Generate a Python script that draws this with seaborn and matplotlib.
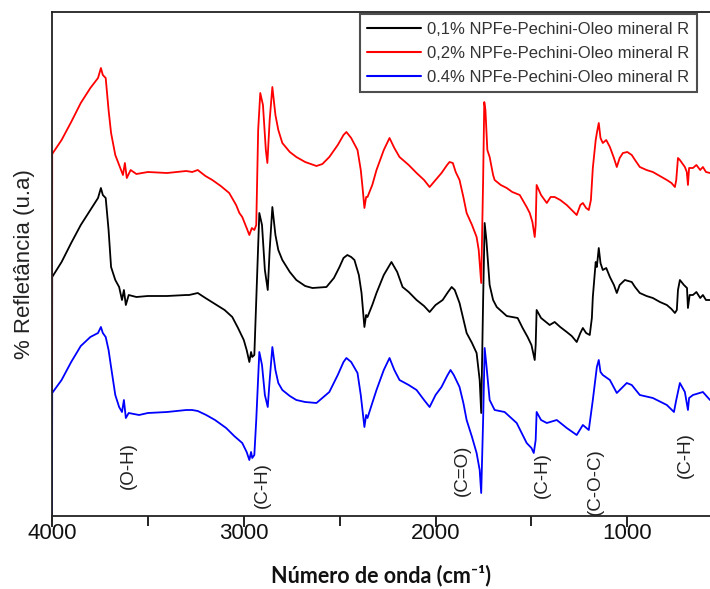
import matplotlib
matplotlib.use("Agg")
import matplotlib.pyplot as plt
import seaborn as sns
import pandas as pd

sns.set_style("white")
plt.rcParams["font.family"] = ["Liberation Sans", "DejaVu Sans"]

# ---- spectra (wavenumber in cm-1, reflectance in arbitrary units) ----
wn_01 = [4000, 3999, 3950, 3900, 3850, 3800, 3760, 3745, 3735, 3720, 3705, 3692, 3670, 3650,
         3635, 3625, 3615, 3600, 3560, 3500, 3400, 3300, 3285, 3240, 3200, 3150, 3100, 3060,
         3030, 3000, 2985, 2971, 2962, 2956, 2945, 2935, 2919, 2905, 2890, 2875, 2865, 2851,
         2835, 2820, 2799, 2760, 2726, 2680, 2642, 2569, 2530, 2501, 2480, 2460, 2440, 2423,
         2400, 2386, 2371, 2362, 2355, 2330, 2308, 2270, 2230, 2200, 2172, 2140, 2099, 2060,
         2031, 2000, 1963, 1935, 1916, 1900, 1875, 1838, 1810, 1786, 1770, 1762, 1752, 1744,
         1735, 1718, 1700, 1681, 1629, 1572, 1546, 1520, 1500, 1483, 1478, 1473, 1450, 1405,
         1379, 1350, 1316, 1290, 1264, 1245, 1232, 1215, 1196, 1185, 1180, 1165, 1159, 1149,
         1140, 1128, 1110, 1091, 1070, 1055, 1040, 1013, 977, 960, 935, 900, 867, 830, 794,
         770, 752, 742, 736, 726, 705, 689, 684, 675, 658, 640, 620, 606, 590, 569]
r_01 = [5.6, 23.9, 25.4, 27.3, 29.1, 30.6, 31.8, 32.8, 32.1, 31.8, 28.6, 24.9, 23.6, 22.9,
        21.6, 22.6, 21.1, 22.1, 21.9, 22.0, 22.0, 22.1, 22.1, 22.3, 21.8, 21.2, 20.6, 19.9,
        18.8, 17.6, 16.6, 15.4, 16.4, 15.9, 16.1, 21.6, 30.3, 29.1, 24.6, 22.6, 26.6, 30.9,
        28.1, 26.6, 25.6, 24.4, 23.6, 23.0, 22.8, 22.9, 23.8, 24.9, 25.8, 26.1, 25.9, 25.6,
        24.1, 22.3, 18.9, 20.1, 19.9, 21.1, 22.3, 24.1, 25.4, 24.4, 22.9, 22.4, 21.6, 21.0,
        20.4, 21.1, 21.6, 22.4, 22.9, 22.6, 21.3, 18.3, 17.3, 16.3, 13.6, 10.3, 21.6, 29.3,
        27.6, 23.1, 21.6, 20.9, 20.0, 19.8, 18.8, 17.9, 17.1, 15.6, 17.1, 20.6, 19.8, 19.1,
        19.4, 18.9, 18.4, 18.0, 17.4, 18.3, 18.8, 18.3, 18.1, 19.8, 21.9, 25.4, 24.9, 26.8,
        25.3, 24.6, 24.8, 23.9, 23.1, 22.3, 23.1, 23.6, 23.4, 22.9, 22.3, 22.0, 21.8, 21.4, 21.1,
        20.7, 20.3, 20.6, 22.6, 23.6, 23.1, 22.8, 20.8, 22.1, 22.1, 22.4, 21.8, 22.1, 21.6, 21.6]

wn_02 = [4000, 3999, 3950, 3900, 3850, 3800, 3760, 3745, 3735, 3720, 3705, 3692, 3670, 3650,
         3630, 3620, 3610, 3590, 3560, 3500, 3400, 3300, 3269, 3240, 3200, 3164, 3120, 3076,
         3040, 3023, 3008, 2985, 2971, 2958, 2945, 2935, 2925, 2914, 2900, 2885, 2877, 2865,
         2851, 2835, 2820, 2799, 2760, 2726, 2680, 2621, 2590, 2554, 2510, 2480, 2465, 2440,
         2407, 2390, 2381, 2371, 2362, 2355, 2330, 2308, 2270, 2240, 2215, 2188, 2140, 2099,
         2060, 2031, 2000, 1969, 1940, 1927, 1910, 1895, 1875, 1855, 1838, 1810, 1786, 1775,
         1762, 1752, 1746, 1740, 1730, 1718, 1700, 1692, 1660, 1629, 1600, 1561, 1525, 1509,
         1495, 1483, 1478, 1473, 1450, 1420, 1400, 1379, 1350, 1316, 1290, 1264, 1245, 1232,
         1215, 1201, 1190, 1180, 1165, 1159, 1149, 1140, 1128, 1110, 1091, 1070, 1055, 1040,
         1023, 1000, 977, 960, 935, 900, 867, 830, 794, 770, 752, 745, 736, 726, 700, 690, 684,
         678, 658, 640, 620, 606, 590, 569]
r_02 = [12.3, 36.2, 37.6, 39.4, 41.3, 42.8, 43.8, 44.8, 44.1, 43.8, 40.6, 38.3, 36.1, 35.1,
        34.1, 35.3, 33.8, 34.6, 34.2, 34.4, 34.3, 34.5, 34.4, 34.6, 34.0, 33.6, 33.0, 32.3,
        31.1, 30.3, 29.9, 28.8, 28.1, 28.8, 28.6, 29.1, 38.6, 42.3, 41.1, 36.6, 35.3, 39.6,
        42.9, 40.1, 38.6, 37.3, 36.4, 35.9, 35.4, 35.0, 35.2, 35.9, 37.1, 38.1, 38.4, 37.8,
        36.6, 34.6, 32.9, 30.8, 31.9, 31.9, 33.1, 34.6, 36.6, 37.8, 36.8, 35.9, 35.1, 34.3,
        33.6, 32.9, 33.6, 34.3, 35.1, 35.4, 35.3, 34.4, 33.6, 31.9, 30.3, 29.1, 27.9, 26.6,
        23.3, 33.6, 41.4, 40.6, 36.6, 35.9, 34.1, 33.6, 33.1, 32.8, 32.4, 32.1, 30.9, 30.3,
        29.4, 27.9, 29.1, 33.1, 32.1, 31.3, 31.9, 31.9, 31.6, 31.1, 30.6, 30.1, 31.1, 31.3,
        30.8, 30.6, 31.6, 34.8, 37.6, 38.3, 39.3, 37.8, 37.3, 37.6, 36.9, 35.8, 34.9, 35.8,
        36.3, 36.4, 36.1, 35.6, 34.9, 34.6, 34.4, 34.0, 33.6, 33.3, 32.9, 33.6, 35.8, 35.6,
        34.9, 34.4, 33.1, 34.8, 34.8, 35.1, 34.6, 34.9, 34.4, 34.3]

wn_04 = [4000, 3999, 3950, 3900, 3850, 3800, 3760, 3745, 3735, 3720, 3705, 3692, 3670, 3650,
         3635, 3625, 3615, 3600, 3546, 3500, 3400, 3300, 3269, 3240, 3196, 3150, 3092, 3050,
         3008, 2985, 2971, 2962, 2956, 2945, 2935, 2919, 2905, 2890, 2875, 2865, 2851, 2835,
         2820, 2799, 2760, 2726, 2680, 2621, 2554, 2510, 2480, 2465, 2440, 2407, 2390, 2371,
         2362, 2355, 2330, 2308, 2270, 2240, 2215, 2188, 2140, 2099, 2060, 2031, 2000, 1969,
         1940, 1922, 1905, 1875, 1855, 1838, 1810, 1786, 1770, 1762, 1752, 1744, 1735, 1718,
         1692, 1640, 1577, 1525, 1500, 1488, 1478, 1473, 1450, 1420, 1368, 1316, 1264, 1232,
         1201, 1180, 1159, 1149, 1140, 1128, 1091, 1055, 1003, 977, 935, 867, 794, 757, 745,
         726, 700, 684, 678, 658, 606, 569]
r_04 = [0.0, 12.3, 13.6, 15.4, 17.0, 17.9, 18.3, 18.9, 18.3, 17.9, 16.6, 14.9, 12.1, 10.9,
        10.4, 11.6, 9.8, 10.3, 10.1, 10.3, 10.4, 10.6, 10.6, 10.5, 10.1, 9.6, 8.8, 8.0,
        7.3, 6.4, 5.6, 6.4, 5.8, 6.1, 9.6, 16.4, 15.1, 12.1, 10.9, 13.6, 16.9, 14.6,
        13.3, 12.6, 12.0, 11.6, 11.4, 11.3, 12.4, 14.1, 15.4, 15.8, 15.4, 14.3, 12.1, 8.9,
        10.1, 9.8, 11.3, 12.6, 14.6, 15.8, 14.6, 13.6, 13.1, 12.6, 11.6, 10.9, 12.1, 12.9,
        14.0, 14.6, 14.1, 12.9, 11.3, 9.6, 7.9, 6.3, 4.6, 2.3, 9.6, 16.8, 15.1, 11.6,
        10.6, 10.4, 9.3, 7.3, 6.8, 6.3, 7.6, 10.4, 9.6, 9.3, 9.6, 8.8, 8.1, 9.1,
        8.6, 11.6, 14.9, 15.6, 14.4, 14.1, 13.6, 12.3, 13.3, 13.1, 12.1, 11.8, 11.1, 10.4, 11.6,
        13.3, 12.4, 10.6, 11.8, 12.1, 12.4, 11.6]

series_names = ["0,1% NPFe-Pechini-Oleo mineral R",
                "0,2% NPFe-Pechini-Oleo mineral R",
                "0.4% NPFe-Pechini-Oleo mineral R"]
series_colors = ["black", "red", "blue"]

# band assignments: label, wavenumber, height
band_labels = ["(O-H)", "(C-H)", "(C=O)", "(C-H)", "(C-O-C)", "(C-H)"]
band_wn = [3600, 2905, 1862, 1442, 1166, 695]
band_y = [5.0, 3.1, 4.6, 4.1, 3.4, 6.1]

frames = []
for name, wn, r in zip(series_names, [wn_01, wn_02, wn_04], [r_01, r_02, r_04]):
    frames.append(pd.DataFrame({"wn": wn, "refl": r, "serie": name}))
df = pd.concat(frames, ignore_index=True)

fig = plt.figure(figsize=(7.1, 5.89), dpi=100)
ax = fig.add_axes([52 / 710, 1 - 516 / 589, 1 - 52 / 710, (516 - 12) / 589])

sns.lineplot(data=df, x="wn", y="refl", hue="serie", hue_order=series_names,
             palette=dict(zip(series_names, series_colors)), sort=False,
             estimator=None, linewidth=1.3, ax=ax)

ax.set_xlim(4000, 569)
ax.set_ylim(0, 50.4)
ax.set_xticks([4000, 3000, 2000, 1000])
ax.set_xticks([3500, 2500, 1500], minor=True)
ax.set_yticks([])
ax.tick_params(axis="x", which="major", direction="out", length=8, width=1.3,
               labelsize=16, pad=-3, colors="#111111")
ax.tick_params(axis="x", which="minor", direction="out", length=7, width=1.3,
               colors="#111111")
ax.tick_params(axis="x", which="both", bottom=True)

for side in ["top", "left", "bottom"]:
    ax.spines[side].set_color("#222222")
    ax.spines[side].set_linewidth(1.3)
ax.spines["right"].set_visible(False)

ax.set_xlabel("Número de onda (cm⁻¹)", fontsize=15.5, fontweight="bold",
              family=["Lato", "DejaVu Sans"], labelpad=15, color="#111111")
ax.set_ylabel("% Refletância (u.a)", fontsize=16, labelpad=12, color="#222222")

for txt, xw, yv in zip(band_labels, band_wn, band_y):
    ax.text(xw, yv, txt, rotation=90, ha="center", va="center",
            fontsize=13.5, color="#222222")

handles, labels = ax.get_legend_handles_labels()
leg = ax.legend(handles, labels, loc="upper right",
                bbox_to_anchor=(697 / 710, 1 - 14 / 589),
                bbox_transform=fig.transFigure, borderaxespad=0,
                fontsize=12, frameon=True, fancybox=False, handlelength=3.2,
                handletextpad=0.4, labelspacing=0.55, borderpad=0.45)
leg.get_frame().set_edgecolor("#222222")
leg.get_frame().set_linewidth(1.5)
for t in leg.get_texts():
    t.set_color("#333333")
for line in leg.get_lines():
    line.set_linewidth(1.5)

fig.savefig("out.png", dpi=100)
